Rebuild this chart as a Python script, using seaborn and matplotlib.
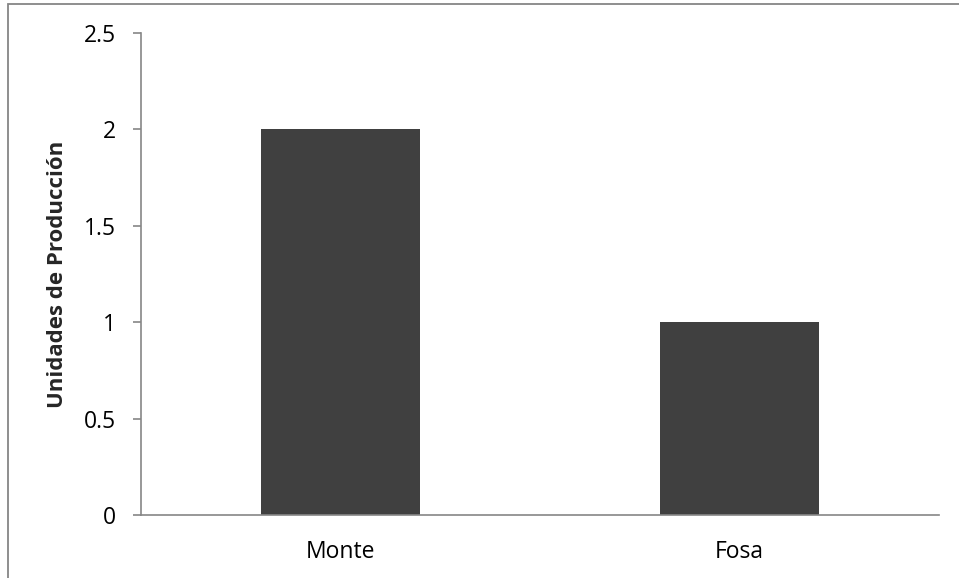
import matplotlib
matplotlib.use("Agg")
import matplotlib.pyplot as plt
import seaborn as sns
import pandas as pd
from matplotlib.patches import Rectangle

categories = ["Monte", "Fosa"]
values = [2, 1]
y_ticks = [0, 0.5, 1, 1.5, 2, 2.5]
y_tick_labels = ["0", "0.5", "1", "1.5", "2", "2.5"]
y_label = "Unidades de Producción"

sns.set_theme(style="white")
plt.rcParams["font.family"] = ["Open Sans", "DejaVu Sans"]

df = pd.DataFrame({"categoria": categories, "valor": values})

fig = plt.figure(figsize=(9.59, 5.78), dpi=100)
ax = fig.add_axes([141 / 959, 1 - 515 / 578, (939 - 141) / 959, (515 - 33) / 578])

sns.barplot(data=df, x="categoria", y="valor", color="#404040", width=0.4,
            saturation=1, ax=ax, edgecolor="none")

ax.set_ylim(0, 2.5)
ax.set_xlim(-0.5, 1.5)
ax.set_yticks(y_ticks)
ax.set_yticklabels(y_tick_labels)
ax.set_xlabel("")
ax.set_ylabel(y_label, fontsize=16, fontweight="bold")
ax.yaxis.set_label_coords(-(141 - 68) / (939 - 141), 0.5)

spine_color = "#868686"
for side in ["top", "right"]:
    ax.spines[side].set_visible(False)
for side in ["left", "bottom"]:
    ax.spines[side].set_color(spine_color)
    ax.spines[side].set_linewidth(1.2)

ax.tick_params(axis="y", which="major", left=True, length=6, width=1.2,
               color=spine_color, labelsize=16.5, pad=12, labelcolor="black")
ax.tick_params(axis="x", which="major", bottom=False, labelsize=16.5, pad=12,
               labelcolor="black")

# outer chart frame
fig.patches.append(Rectangle((8 / 959, -0.1), 1.2, 1 - 4 / 578 + 0.1,
                             transform=fig.transFigure, fill=False,
                             edgecolor="#868686", linewidth=1.3))

fig.savefig("out.png", dpi=100)
